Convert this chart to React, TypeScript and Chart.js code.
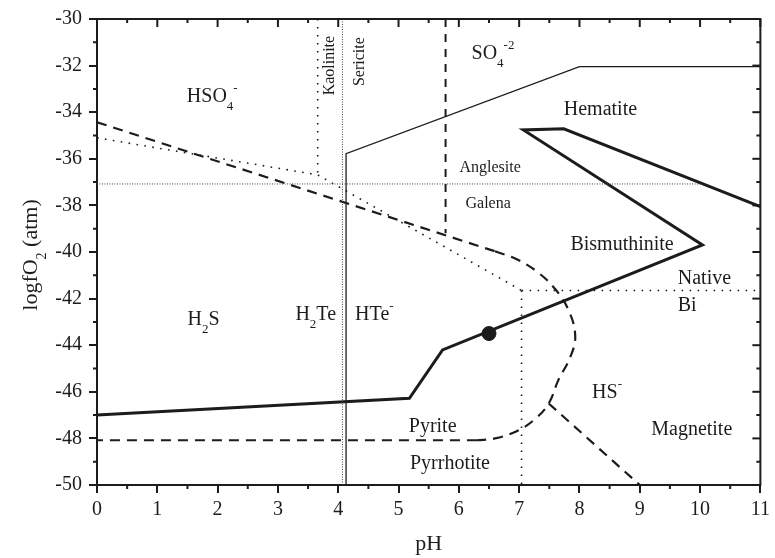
import React, { useEffect, useRef } from 'react';
import { Chart, registerables } from 'chart.js';

Chart.register(...registerables);

// ---- axis ranges / ticks ----
const X_MIN = 0;
const X_MAX = 11;
const Y_MIN = -50;
const Y_MAX = -30;
const X_STEP = 1;
const Y_STEP = 2;

// ---- boundary lines (pH, logfO2) ----
const bismuthiniteBoundary = [[0, -47], [5.18, -46.28], [5.73, -44.2], [10.04, -39.7], [7.07, -34.76], [7.74, -34.71], [11, -38.05]];
const hematiteThin = [[4.13, -50], [4.13, -35.78], [8, -32.04], [11, -32.04]];
const sulfurDashStraight = [[0, -34.43], [6.6, -39.97]];
const sulfurDashCurve = [[6.6, -39.97], [6.95, -40.3], [7.3, -40.85], [7.6, -41.6], [7.82, -42.5], [7.93, -43.6], [7.85, -44.5], [7.65, -45.5], [7.49, -46.5], [7.25, -47.2], [6.95, -47.7], [6.6, -48.0], [6.3, -48.08]];
const sulfurDashLower = [[6.3, -48.08], [0, -48.08]];
const magnetiteBranch = [[7.49, -46.5], [9, -50]];
const so4Dashed = [[5.78, -30], [5.78, -39.2]];
const kaoliniteDotted = [[3.66, -30], [3.66, -36.69]];
const teFineDotted = [[4.07, -30], [4.07, -50]];
const galenaFineDotted = [[0, -37.08], [10, -37.08]];
const oxDotted = [[0, -35.1], [3.66, -36.69], [7.04, -41.65]];
const nativeBiDottedH = [[7.04, -41.65], [11, -41.65]];
const nativeBiDottedV = [[7.04, -41.65], [7.04, -50]];
const samplePoint = [[6.5, -43.5]];

// ---- region labels: parts [text, kind] kind n=normal b=subscript p=superscript ----
type Part = [string, 'n' | 'b' | 'p'];
const regionLabels: { parts: Part[]; x: number; y: number; size: number; rot?: boolean }[] = [
  { parts: [['HSO', 'n'], ['4', 'b'], ['-', 'p']], x: 1.49, y: -33.26, size: 20 },
  { parts: [['SO', 'n'], ['4', 'b'], ['-2', 'p']], x: 6.21, y: -31.44, size: 20 },
  { parts: [['Hematite', 'n']], x: 7.74, y: -33.82, size: 20 },
  { parts: [['Anglesite', 'n']], x: 6.01, y: -36.34, size: 16 },
  { parts: [['Galena', 'n']], x: 6.11, y: -37.87, size: 16 },
  { parts: [['Bismuthinite', 'n']], x: 7.85, y: -39.63, size: 20 },
  { parts: [['Native', 'n']], x: 9.63, y: -41.08, size: 20 },
  { parts: [['Bi', 'n']], x: 9.63, y: -42.26, size: 20 },
  { parts: [['H', 'n'], ['2', 'b'], ['S', 'n']], x: 1.5, y: -42.85, size: 20 },
  { parts: [['H', 'n'], ['2', 'b'], ['Te', 'n']], x: 3.29, y: -42.64, size: 20 },
  { parts: [['HTe', 'n'], ['-', 'p']], x: 4.28, y: -42.64, size: 20 },
  { parts: [['HS', 'n'], ['-', 'p']], x: 8.21, y: -45.97, size: 20 },
  { parts: [['Magnetite', 'n']], x: 9.19, y: -47.59, size: 20 },
  { parts: [['Pyrite', 'n']], x: 5.17, y: -47.45, size: 20 },
  { parts: [['Pyrrhotite', 'n']], x: 5.19, y: -49.05, size: 20 },
  { parts: [['Kaolinite', 'n']], x: 3.84, y: -32.0, size: 16, rot: true },
  { parts: [['Sericite', 'n']], x: 4.34, y: -31.83, size: 16, rot: true },
];

const X_TITLE: Part[] = [['pH', 'n']];
const Y_TITLE: Part[] = [['logfO', 'n'], ['2', 'b'], [' (atm)', 'n']];

const INK = '#1c1c1c';
const FONT = '"Liberation Serif", "Times New Roman", serif';

const toXY = (arr: number[][]) => arr.map(([x, y]) => ({ x, y }));

function partsWidth(ctx: CanvasRenderingContext2D, parts: Part[], size: number) {
  let w = 0;
  for (const [t, k] of parts) {
    const fs = k === 'n' ? size : Math.round(size * 0.65);
    ctx.font = `${fs}px ${FONT}`;
    w += ctx.measureText(t).width;
  }
  return w;
}

function drawParts(ctx: CanvasRenderingContext2D, parts: Part[], x: number, baseline: number, size: number) {
  let cx = x;
  ctx.textBaseline = 'alphabetic';
  ctx.textAlign = 'left';
  for (const [t, k] of parts) {
    const fs = k === 'n' ? size : Math.round(size * 0.65);
    ctx.font = `${fs}px ${FONT}`;
    const dy = k === 'b' ? size * 0.4 : k === 'p' ? -size * 0.5 : 0;
    ctx.fillText(t, cx, baseline + dy);
    cx += ctx.measureText(t).width;
  }
}

const framePlugin = {
  id: 'framePlugin',
  afterDraw(chart: any) {
    const { ctx, chartArea } = chart;
    const xs = chart.scales.x;
    const ys = chart.scales.y;
    const { left, right, top, bottom } = chartArea;
    ctx.save();
    ctx.strokeStyle = INK;
    ctx.fillStyle = INK;
    // frame top/right
    ctx.lineWidth = 2;
    ctx.beginPath();
    ctx.moveTo(left - 1, top);
    ctx.lineTo(right, top);
    ctx.lineTo(right, bottom + 1);
    ctx.stroke();
    // x ticks: top inward (major+minor), bottom outward minor
    for (let v = X_MIN; v <= X_MAX + 1e-9; v += X_STEP / 2) {
      const px = xs.getPixelForValue(v);
      const major = Math.abs(v - Math.round(v)) < 1e-9;
      const len = major ? 8 : 4;
      ctx.beginPath();
      ctx.moveTo(px, top);
      ctx.lineTo(px, top + len);
      if (!major) {
        ctx.moveTo(px, bottom);
        ctx.lineTo(px, bottom + 4);
      }
      ctx.stroke();
    }
    for (let v = Y_MIN; v <= Y_MAX + 1e-9; v += Y_STEP / 2) {
      const py = ys.getPixelForValue(v);
      const major = Math.abs(v / Y_STEP - Math.round(v / Y_STEP)) < 1e-9;
      const len = major ? 8 : 4;
      ctx.beginPath();
      ctx.moveTo(right, py);
      ctx.lineTo(right - len, py);
      if (!major) {
        ctx.moveTo(left, py);
        ctx.lineTo(left - 4, py);
      }
      ctx.stroke();
    }
    // region labels
    for (const lab of regionLabels) {
      const px = xs.getPixelForValue(lab.x);
      const py = ys.getPixelForValue(lab.y);
      if (lab.rot) {
        ctx.save();
        ctx.translate(px, py);
        ctx.rotate(-Math.PI / 2);
        const w = partsWidth(ctx, lab.parts, lab.size);
        drawParts(ctx, lab.parts, -w / 2, lab.size * 0.33, lab.size);
        ctx.restore();
      } else {
        drawParts(ctx, lab.parts, px, py + lab.size * 0.33, lab.size);
      }
    }
    // axis titles
    const tSize = 22;
    const cxTitle = (left + right) / 2;
    const wx = partsWidth(ctx, X_TITLE, tSize);
    drawParts(ctx, X_TITLE, cxTitle - wx / 2, 550, tSize);
    ctx.save();
    ctx.translate(37, (top + bottom) / 2 + 3);
    ctx.rotate(-Math.PI / 2);
    const wy = partsWidth(ctx, Y_TITLE, tSize);
    drawParts(ctx, Y_TITLE, -wy / 2, 0, tSize);
    ctx.restore();
    ctx.restore();
  },
};

function lineDs(data: number[][], opts: any) {
  return {
    data: toXY(data),
    showLine: true,
    pointRadius: 0,
    borderColor: INK,
    backgroundColor: INK,
    fill: false,
    ...opts,
  };
}

export default function App() {
  const ref = useRef<HTMLCanvasElement | null>(null);
  useEffect(() => {
    if (!ref.current) return;
    const sparseDot = { borderWidth: 1.6, borderDash: [1.6, 6.4] };
    const fineDot = { borderWidth: 1, borderDash: [1, 1.5], borderColor: '#444' };
    const dash = { borderWidth: 2.2, borderDash: [10, 7] };
    const chart = new Chart(ref.current, {
      type: 'scatter',
      data: {
        datasets: [
          lineDs(teFineDotted, fineDot),
          lineDs(galenaFineDotted, fineDot),
          lineDs(kaoliniteDotted, sparseDot),
          lineDs(oxDotted, sparseDot),
          lineDs(nativeBiDottedH, sparseDot),
          lineDs(nativeBiDottedV, sparseDot),
          lineDs(hematiteThin, { borderWidth: 1.3 }),
          lineDs(sulfurDashStraight, dash),
          lineDs(sulfurDashCurve, { ...dash, tension: 0.4 }),
          lineDs(sulfurDashLower, dash),
          lineDs(magnetiteBranch, dash),
          lineDs(so4Dashed, { borderWidth: 2, borderDash: [8, 7] }),
          lineDs(bismuthiniteBoundary, { borderWidth: 3, borderJoinStyle: 'miter' }),
          { data: toXY(samplePoint), showLine: false, pointRadius: 7, pointBackgroundColor: INK, pointBorderColor: INK },
        ] as any,
      },
      options: {
        responsive: false,
        animation: false,
        devicePixelRatio: 1,
        layout: { padding: { left: 0, top: 14, right: 10, bottom: 0 } },
        plugins: { legend: { display: false }, tooltip: { enabled: false } },
        scales: {
          x: {
            type: 'linear',
            min: X_MIN,
            max: X_MAX,
            afterFit: (s: any) => { s.height = 73; },
            ticks: { stepSize: X_STEP, autoSkip: false, maxRotation: 0, padding: 5, color: INK, font: { family: FONT, size: 20 } },
            grid: { drawOnChartArea: false, drawTicks: true, tickLength: 8, lineWidth: 2, color: INK },
            border: { display: true, width: 2, color: INK },
          },
          y: {
            type: 'linear',
            min: Y_MIN,
            max: Y_MAX,
            afterFit: (s: any) => { s.width = 97; },
            ticks: { stepSize: Y_STEP, autoSkip: false, padding: 7, color: INK, font: { family: FONT, size: 20 } },
            grid: { drawOnChartArea: false, drawTicks: true, tickLength: 8, lineWidth: 2, color: INK },
            border: { display: true, width: 2, color: INK },
          },
        },
      } as any,
      plugins: [framePlugin],
    });
    return () => chart.destroy();
  }, []);
  return (
    <div style={{ position: 'fixed', left: 0, top: 0, width: 775, height: 558, background: '#fff' }}>
      <canvas ref={ref} width={775} height={558} />
    </div>
  );
}
